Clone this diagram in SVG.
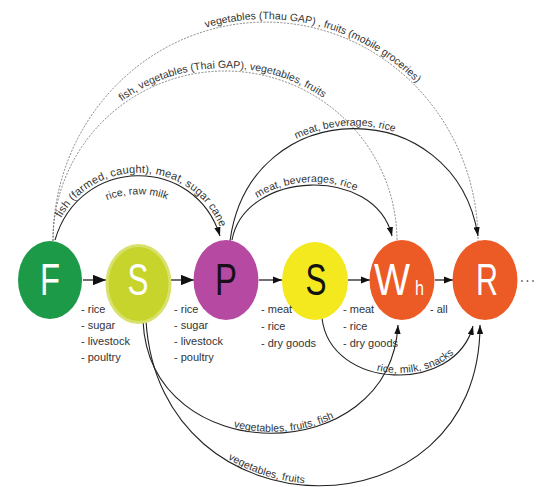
<svg xmlns="http://www.w3.org/2000/svg" width="537" height="487" viewBox="0 0 537 487">
  <style>
    .lbl { font-family: "Liberation Sans", Arial, sans-serif; font-size: 11px; fill: #333; }
    .arc-lbl { font-family: "Liberation Sans", Arial, sans-serif; font-size: 10.5px; fill: #333; }
    .letter { font-family: "Liberation Sans", Arial, sans-serif; font-size: 44px; }
    .solid { fill: none; stroke: #222; stroke-width: 1.1; }
    .dashed { fill: none; stroke: #555; stroke-width: 0.7; stroke-dasharray: 2 1.4; }
    .flow { fill: none; stroke: #222; stroke-width: 1.3; }
  </style>
  <defs>
    <marker id="ah" viewBox="0 0 10 7" refX="10" refY="3.5" markerWidth="9" markerHeight="6.3" markerUnits="userSpaceOnUse" orient="auto">
      <path d="M0,0 L10,3.5 L0,7z" fill="#111"/>
    </marker>
    <marker id="ah-big" viewBox="0 0 10 8" refX="10" refY="4" markerWidth="13" markerHeight="10.4" markerUnits="userSpaceOnUse" orient="auto">
      <path d="M0,0 L10,4 L0,8z" fill="#111"/>
    </marker>
    <marker id="ah-mid" viewBox="0 0 10 8" refX="10" refY="4" markerWidth="9" markerHeight="7.2" markerUnits="userSpaceOnUse" orient="auto">
      <path d="M0,0 L10,4 L0,8z" fill="#111"/>
    </marker>
    <!-- arc geometry, reused by the labels -->
    <path id="pFR" d="M53,241 A212.5,219 0 0 1 478,241"/>
    <path id="pFWh" d="M53,241 A172,170 0 0 1 397,241"/>
    <path id="pFP" d="M55,240 C80,155 195,155 220,236"/>
    <path id="pRice" d="M70,238 C92,180 183,180 205,236"/>
    <path id="pPWh" d="M232,240 C245,170 375,165 392,236"/>
    <path id="pPR" d="M230,241 C250,92 455,92 478,236"/>
    <path id="pSWh" d="M143,321 C150,470 390,470 398,325"/>
    <path id="pSR" d="M146,321 C160,540 480,540 480,325"/>
    <path id="pYR" d="M322,318 C330,390 455,395 473,326"/>
  </defs>

  <rect width="537" height="487" fill="#fff"/>

  <!-- connectors -->
  <g id="connectors">
    <use href="#pFR" class="dashed"/>
    <use href="#pFWh" class="dashed"/>
    <use href="#pFP" class="solid" marker-end="url(#ah)"/>
    <use href="#pPWh" class="solid" marker-end="url(#ah)"/>
    <use href="#pPR" class="solid" marker-end="url(#ah)"/>
    <use href="#pSWh" class="solid" marker-end="url(#ah)"/>
    <use href="#pSR" class="solid" marker-end="url(#ah)"/>
    <use href="#pYR" class="solid" marker-end="url(#ah)"/>

    <line class="flow" x1="83" y1="280" x2="106" y2="280" marker-end="url(#ah-big)"/>
    <line class="flow" x1="171" y1="280" x2="194" y2="280" marker-end="url(#ah-big)"/>
    <line class="flow" x1="259" y1="280" x2="282" y2="280" marker-end="url(#ah-mid)"/>
    <line class="flow" x1="348" y1="280" x2="370" y2="280" marker-end="url(#ah-mid)"/>
    <line class="flow" x1="435" y1="280" x2="453" y2="280" marker-end="url(#ah-mid)"/>

    <!-- arc labels -->
    <text class="arc-lbl" dy="-3"><textPath href="#pFR" startOffset="279" textLength="226">vegetables (Thau GAP) , fruits (mobile groceries)</textPath></text>
    <text class="arc-lbl" dy="-3"><textPath href="#pFWh" startOffset="160" textLength="211">fish, vegetables (Thai GAP), vegetables, fruits</textPath></text>
    <text class="arc-lbl" dy="-3" style="font-size:11px"><textPath href="#pFP" startOffset="22">fish (farmed, caught), meat, sugar cane</textPath></text>
    <text class="arc-lbl"><textPath href="#pRice" startOffset="50%" text-anchor="middle">rice, raw milk</textPath></text>
    <text class="arc-lbl" dy="-3"><textPath href="#pPWh" startOffset="49" textLength="100">meat, beverages, rice</textPath></text>
    <text class="arc-lbl" dy="-3"><textPath href="#pPR" startOffset="125" textLength="99">meat, beverages, rice</textPath></text>
    <text class="arc-lbl" dy="-1.5"><textPath href="#pSWh" startOffset="151" textLength="104">vegetables, fruits, fish</textPath></text>
    <text class="arc-lbl" dy="-2"><textPath href="#pSR" startOffset="168" textLength="82">vegetables, fruits</textPath></text>
    <text class="arc-lbl" dy="-2"><textPath href="#pYR" startOffset="82" textLength="84">rice, milk, snacks</textPath></text>
  </g>

  <!-- nodes -->
  <g id="node-F">
    <ellipse cx="50" cy="280" rx="32" ry="39" fill="#1c9a48"/>
    <text class="letter" x="50" y="295" fill="#fff" text-anchor="middle" textLength="20" lengthAdjust="spacingAndGlyphs">F</text>
  </g>
  <g id="node-S1">
    <ellipse cx="138.5" cy="284" rx="31.5" ry="38.5" fill="#c6d42b" stroke="#d8e16c" stroke-width="3"/>
    <text class="letter" x="138" y="295" fill="#fff" text-anchor="middle" textLength="21" lengthAdjust="spacingAndGlyphs">S</text>
  </g>
  <g id="node-P">
    <ellipse cx="226" cy="280" rx="32.5" ry="40" fill="#b64aa2"/>
    <text class="letter" x="226" y="295" fill="#1a0f18" text-anchor="middle" textLength="22" lengthAdjust="spacingAndGlyphs">P</text>
  </g>
  <g id="node-S2">
    <ellipse cx="315" cy="281" rx="33" ry="39" fill="#f4e81e"/>
    <text class="letter" x="316" y="295" fill="#111" text-anchor="middle" textLength="21" lengthAdjust="spacingAndGlyphs">S</text>
  </g>
  <g id="node-Wh">
    <ellipse cx="402" cy="280" rx="32.5" ry="40" fill="#ec5a25"/>
    <text class="letter" x="374" y="295" fill="#fff" textLength="36" lengthAdjust="spacingAndGlyphs">W</text>
    <text class="letter" x="415" y="295" fill="#fff" style="font-size:21px" textLength="9" lengthAdjust="spacingAndGlyphs">h</text>
  </g>
  <g id="node-R">
    <ellipse cx="485" cy="280" rx="32.5" ry="40" fill="#ec5a25"/>
    <text class="letter" x="487" y="295" fill="#fff" text-anchor="middle" textLength="22" lengthAdjust="spacingAndGlyphs">R</text>
  </g>
  <g id="ellipsis" fill="#666">
    <circle cx="522" cy="281" r="0.9"/>
    <circle cx="527.5" cy="281" r="0.9"/>
    <circle cx="533" cy="281" r="0.9"/>
  </g>

  <!-- goods listed on the flow arrows -->
  <g id="flow-labels" class="lbl">
    <text x="81" y="313">- rice</text>
    <text x="81" y="329">- sugar</text>
    <text x="81" y="345">- livestock</text>
    <text x="81" y="361">- poultry</text>

    <text x="174" y="313">- rice</text>
    <text x="174" y="329">- sugar</text>
    <text x="174" y="345">- livestock</text>
    <text x="174" y="361">- poultry</text>

    <text x="261" y="313">- meat</text>
    <text x="261" y="330">- rice</text>
    <text x="261" y="347">- dry goods</text>

    <text x="343" y="313">- meat</text>
    <text x="343" y="330">- rice</text>
    <text x="343" y="347">- dry goods</text>

    <text x="430" y="313">- all</text>
  </g>
</svg>
